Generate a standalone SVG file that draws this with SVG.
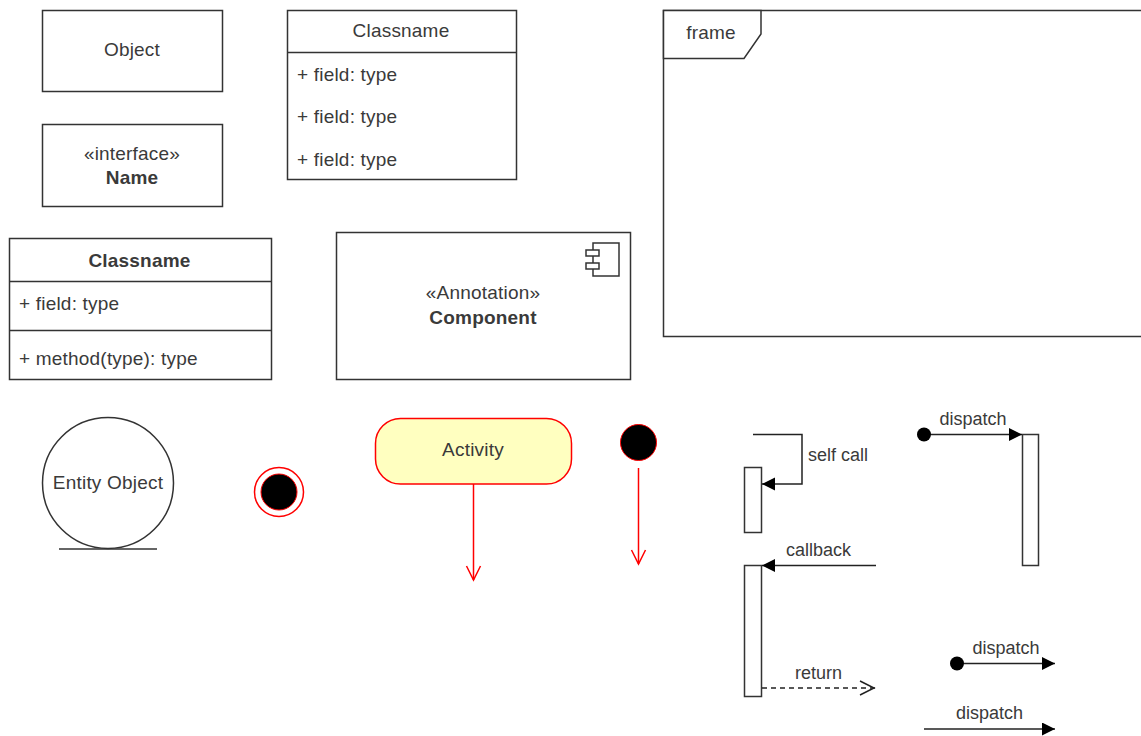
<svg xmlns="http://www.w3.org/2000/svg" width="1141" height="736" viewBox="0 0 1141 736">
<style>
text{font-family:"Liberation Sans",Arial,sans-serif;font-size:19px;letter-spacing:.2px;fill:#3a3a3a}
.m{text-anchor:middle}
.b{font-weight:bold}
.s{font-size:18px;letter-spacing:0}
.n{fill:#fff;stroke:#333;stroke-width:1.5}
.l{fill:none;stroke:#333;stroke-width:1.5}
.c{fill:none;stroke:#222;stroke-width:1.5}
.r{fill:none;stroke:#f00;stroke-width:1.5}
</style>
<defs>
<marker id="fill" markerUnits="userSpaceOnUse" markerWidth="14" markerHeight="14" refX="13" refY="6.500" orient="auto"><path d="M0 0L13 6.500L0 13Z" fill="#000"/></marker>
<marker id="red" markerUnits="userSpaceOnUse" markerWidth="18" markerHeight="18" refX="15" refY="8" orient="auto"><path d="M1 1L15 8L1 15" fill="none" stroke="#f00" stroke-width="1.5"/></marker>
<marker id="dot" markerUnits="userSpaceOnUse" markerWidth="16" markerHeight="16" refX="8" refY="8"><circle cx="8" cy="8" r="7" fill="#000"/></marker>
</defs>
<g id="object"><rect class="n" x="42.500" y="10.500" width="180" height="81"/><text class="m" x="132" y="55.500">Object</text></g>
<g id="interface"><rect class="n" x="42.500" y="124.500" width="180" height="82"/><text class="m" x="132" y="160">«interface»</text><text class="m b" x="132" y="183.500">Name</text></g>
<g id="class-fields"><rect class="n" x="287.500" y="10.500" width="229" height="169"/><path class="l" d="M288 52.500H516"/><text class="m" x="401" y="36.500">Classname</text><text x="297" y="80.500">+ field: type</text><text x="297" y="122.500">+ field: type</text><text x="297" y="165.500">+ field: type</text></g>
<g id="class-method"><rect class="n" x="9.500" y="238.500" width="262" height="141"/><path class="l" d="M10 281.500H271M10 330.500H271"/><text class="m b" x="139.500" y="266.500">Classname</text><text x="19" y="309.500">+ field: type</text><text x="19" y="364.500">+ method(type): type</text></g>
<g id="component"><rect class="n" x="336.500" y="232.500" width="294" height="147"/><rect class="n" x="593" y="243" width="26" height="33"/><rect class="n" x="586" y="250" width="13" height="6"/><rect class="n" x="586" y="263" width="13" height="6"/><text class="m" x="483" y="299">«Annotation»</text><text class="m b" x="483" y="324">Component</text></g>
<g id="frame"><path class="n" d="M1141 10.500H663.500V336.500H1141"/><path class="n" d="M663.500 10.500H761V34L744 58.500H663.500Z"/><text class="m" x="711" y="39">frame</text></g>
<g id="entity"><circle class="n" cx="108" cy="483" r="65.500"/><path class="l" d="M59 549H157"/><text class="m" x="108" y="489">Entity Object</text></g>
<g id="final-state"><circle cx="279" cy="492" r="24.500" fill="#fff" stroke="#f00" stroke-width="1.500"/><circle cx="279" cy="492" r="18" fill="#000" stroke="#f00"/></g>
<g id="activity"><rect x="375.500" y="418.500" width="196" height="65.500" rx="25" fill="#ffffc0" stroke="#f00" stroke-width="1.500"/><text class="m" x="473" y="456">Activity</text></g>
<g id="initial-state"><circle cx="638.500" cy="442.500" r="18" fill="#000" stroke="#f00"/></g>
<g id="bar-self"><rect class="n" x="744.500" y="467.500" width="17" height="65"/></g>
<g id="bar-callback"><rect class="n" x="744.500" y="565.500" width="17" height="131"/></g>
<g id="bar-dispatch"><rect class="n" x="1022.500" y="434.500" width="16" height="131"/></g>
<g id="connectors">
<path class="r" d="M473.500 484V580" marker-end="url(#red)"/>
<path class="r" d="M638.500 468V564" marker-end="url(#red)"/>
<path class="c" d="M753 434.500H802V484H762" marker-end="url(#fill)"/>
<path class="c" d="M876 565.500H762" marker-end="url(#fill)"/>
<path class="c" d="M762 688H875" stroke-dasharray="5 4"/>
<path class="c" d="M860 681L874 688L860 695"/>
<path class="c" d="M924 434.500H1022" marker-start="url(#dot)" marker-end="url(#fill)"/>
<path class="c" d="M957 663.500H1055" marker-start="url(#dot)" marker-end="url(#fill)"/>
<path class="c" d="M924 729H1055" marker-end="url(#fill)"/>
<g class="labels">
<text class="s m" x="838" y="461">self call</text>
<text class="s m" x="818.500" y="556">callback</text>
<text class="s m" x="818.500" y="679">return</text>
<text class="s m" x="973" y="425">dispatch</text>
<text class="s m" x="1006" y="654">dispatch</text>
<text class="s m" x="989.500" y="719">dispatch</text>
</g>
</g>
</svg>
